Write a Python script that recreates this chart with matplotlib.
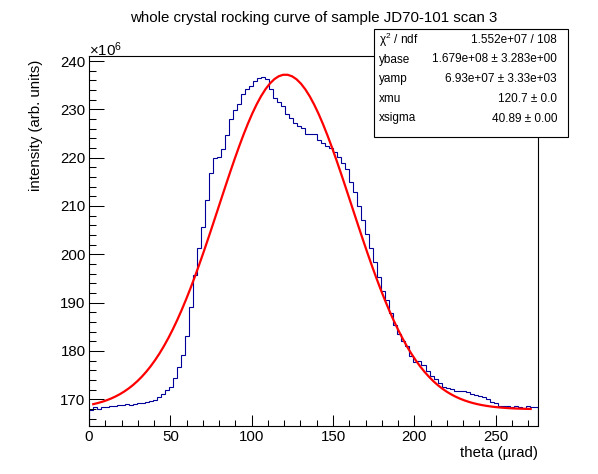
import numpy as np
import matplotlib
matplotlib.use('Agg')
import matplotlib.pyplot as plt
from matplotlib.ticker import MultipleLocator

plt.rcParams['font.family'] = ['Liberation Sans', 'DejaVu Sans']
plt.rcParams['mathtext.fontset'] = 'custom'
plt.rcParams['mathtext.rm'] = 'Liberation Sans'
plt.rcParams['mathtext.it'] = 'Liberation Sans'

# histogram: 112 bins over 0..275.8 urad, contents in units of 1e6
theta_max = 275.8
counts = [
    167.7, 168.3, 167.9, 168.4, 168.4, 168.5, 168.6, 168.8, 168.9, 169.0,
    168.8, 169.1, 169.2, 169.3, 169.4, 169.6, 169.9, 170.4, 171.0, 171.8,
    172.6, 174.3, 176.6, 179.1, 183.0, 189.0, 195.8, 201.3, 205.6, 211.2,
    216.9, 219.9, 220.1, 221.7, 224.6, 228.1, 229.8, 231.2, 233.1, 234.2,
    234.8, 235.8, 236.5, 236.8, 236.2, 234.2, 232.3, 231.6, 230.7, 229.0,
    228.3, 227.1, 226.6, 226.1, 224.8, 224.8, 224.8, 223.6, 223.0, 222.5,
    222.1, 221.1, 220.2, 219.0, 217.6, 215.0, 212.9, 210.0, 207.2, 204.1,
    201.4, 198.3, 195.2, 192.5, 190.5, 187.8, 185.3, 183.5, 182.0, 181.0,
    178.9, 177.7, 178.0, 177.1, 175.9, 174.8, 174.1, 173.3, 172.6, 172.4,
    172.2, 171.6, 171.6, 171.6, 171.4, 171.1, 170.9, 170.6, 170.4, 170.0,
    169.5, 169.3, 168.6, 168.6, 168.6, 168.4, 168.5, 168.3, 168.1, 168.6,
    168.4, 168.4,
]

# gaussian fit parameters (from the stats box)
ybase = 167.9
yamp = 69.3
xmu = 120.7
xsigma = 40.89
fit_lo, fit_hi = 2.6, 271.5

stat_names = [r'$\chi^{2}$ / ndf', 'ybase', 'yamp', 'xmu', 'xsigma']
stat_vals = ['1.552e+07 / 108', '1.679e+08 ± 3.283e+00', '6.93e+07 ± 3.33e+03',
             '120.7 ± 0.0', '40.89 ± 0.00']

W, H = 598, 474
my_dpi = 100
fig = plt.figure(figsize=(W/my_dpi, H/my_dpi), dpi=my_dpi)
ax = fig.add_axes([89/W, 1-426/H, (538-89)/W, (426-56)/H])

edges = np.linspace(0, theta_max, len(counts)+1)
ax.stairs(counts, edges, color='#000099', linewidth=0.8)

xf = np.linspace(fit_lo, fit_hi, 100)
yf = ybase + yamp*np.exp(-0.5*((xf - xmu)/xsigma)**2)
ax.plot(xf, yf, color='#ff0000', linewidth=1.6)

ax.set_xlim(0, 276)
ax.set_ylim(164.45, 241.05)
ax.xaxis.set_major_locator(MultipleLocator(50))
ax.xaxis.set_minor_locator(MultipleLocator(10))
ax.yaxis.set_major_locator(MultipleLocator(10))
ax.yaxis.set_minor_locator(MultipleLocator(2))
ax.tick_params(which='both', direction='in', top=False, right=False, width=0.75, labelsize=10.8)
ax.tick_params(axis='y', which='major', length=10.6, pad=2.5)
ax.tick_params(axis='y', which='minor', length=5.3)
ax.tick_params(axis='x', which='major', length=7.9, pad=3)
ax.tick_params(axis='x', which='minor', length=4)
for s in ax.spines.values():
    s.set_linewidth(0.8)

fig.text(89/W, 1-50/H, r'$\times$10$^{6}$', fontsize=10.8, ha='left', va='center')
fig.text(314/W, 1-18/H, 'whole crystal rocking curve of sample JD70-101 scan 3',
         fontsize=10.8, ha='center', va='center')
fig.text(36/W, 1-60/H, 'intensity (arb. units)', fontsize=10.8, rotation=90,
         ha='center', va='top')
fig.text(538/W, 1-453/H, 'theta (µrad)', fontsize=10.8, ha='right', va='center')

# stats box
bx0, bx1, by0, by1 = 374, 568, 29, 137
box = plt.Rectangle((bx0/W, 1-by1/H), (bx1-bx0)/W, (by1-by0)/H, transform=fig.transFigure,
                    facecolor='white', edgecolor='black', linewidth=0.8, zorder=5)
fig.patches.append(box)
row_y = [40, 59.5, 79, 98.5, 118.5]
for name, val, yy in zip(stat_names, stat_vals, row_y):
    fig.text(379/W, 1-yy/H, name, fontsize=8.5, ha='left', va='center', zorder=6)
    fig.text(557/W, 1-yy/H, val, fontsize=8.5, ha='right', va='center', zorder=6)

fig.savefig('out.png', dpi=my_dpi)
